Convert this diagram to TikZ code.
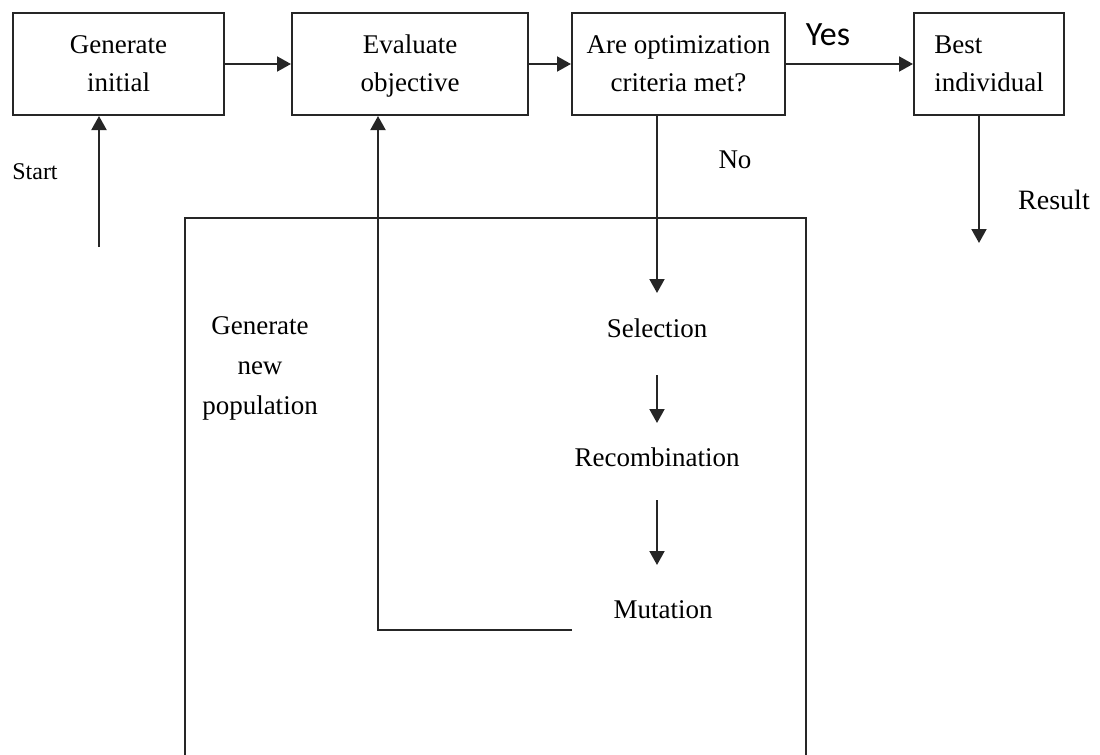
\documentclass[tikz,border=0pt]{standalone}
\usepackage{fontspec}
\setmainfont{Liberation Serif}
\newfontfamily\yesfont{Carlito}
\usetikzlibrary{arrows.meta,calc}
\tikzset{
  procbox/.style={draw=black!85, line width=1pt, inner sep=0pt, align=center,
    font=\fontsize{13.5pt}{19pt}\selectfont},
  lbl/.style={inner sep=0pt, font=\fontsize{13.5pt}{19pt}\selectfont},
  conn/.style={draw=black!85, line width=1pt},
  arr/.style={conn, -{Triangle[length=7pt,width=7.5pt]}}
}
\begin{document}
\begin{tikzpicture}[x=0.5pt,y=-0.5pt]
\useasboundingbox (0,0) rectangle (1100,755);
% top row boxes
\node[procbox, minimum width=105.5pt, minimum height=51pt] (gen) at (118.5,64) {Generate\\initial};
\node[procbox, minimum width=118pt, minimum height=51pt] (eval) at (410,64) {};
\node[lbl, align=center] (evaltxt) at (410,66) {Evaluate\\objective};
\node[procbox, minimum width=106.5pt, minimum height=51pt] (crit) at (678.5,64) {Are optimization\\criteria met?};
\node[procbox, minimum width=75pt, minimum height=51pt] (best) at (989,64) {};
\node[lbl, align=left] (besttxt) at (989,64) {Best\\individual};
% big frame
\node[draw=black!85, line width=1pt, inner sep=0pt, minimum width=310.5pt, minimum height=271pt] (frame) at (495.5,489) {};
% labels
\node[lbl, font=\fontsize{12pt}{14pt}\selectfont] (start) at (35,172) {Start};
\node[lbl, font=\yesfont\fontsize{17pt}{20pt}\selectfont] (yes) at (828,35) {Yes};
\node[lbl] (no) at (735,160) {No};
\node[lbl, font=\fontsize{14pt}{16pt}\selectfont] (result) at (1054,200) {Result};
\node[lbl, align=center, font=\fontsize{13.5pt}{20pt}\selectfont] (newpop) at (260,368) {Generate\\new\\population};
\node[lbl] (sel) at (657,328) {Selection};
\node[lbl] (rec) at (657,457) {Recombination};
\node[lbl] (mut) at (663,610) {Mutation};
% free ends
\coordinate (startpt) at (99,247);
\coordinate (resend) at (979,243);
\coordinate (loopA) at (572,630);
% connectors
\draw[arr] (gen) -- (eval);
\draw[arr] (eval) -- (crit);
\draw[arr] (crit) -- (best);
\draw[arr] (startpt) -- (startpt |- gen.south);
\draw[arr] (resend |- best.south) -- (resend);
\draw[arr] (sel.north |- crit.south) -- ($(sel.center)+(0,-35)$);
\draw[arr] ($(sel.center)+(0,47)$) -- ($(rec.center)+(0,-34)$);
\draw[arr] ($(rec.center)+(0,43)$) -- ($(mut.center)+(-6,-45)$);
\draw[arr] (loopA) -| ([xshift=-16pt]eval.south);
\end{tikzpicture}
\end{document}
